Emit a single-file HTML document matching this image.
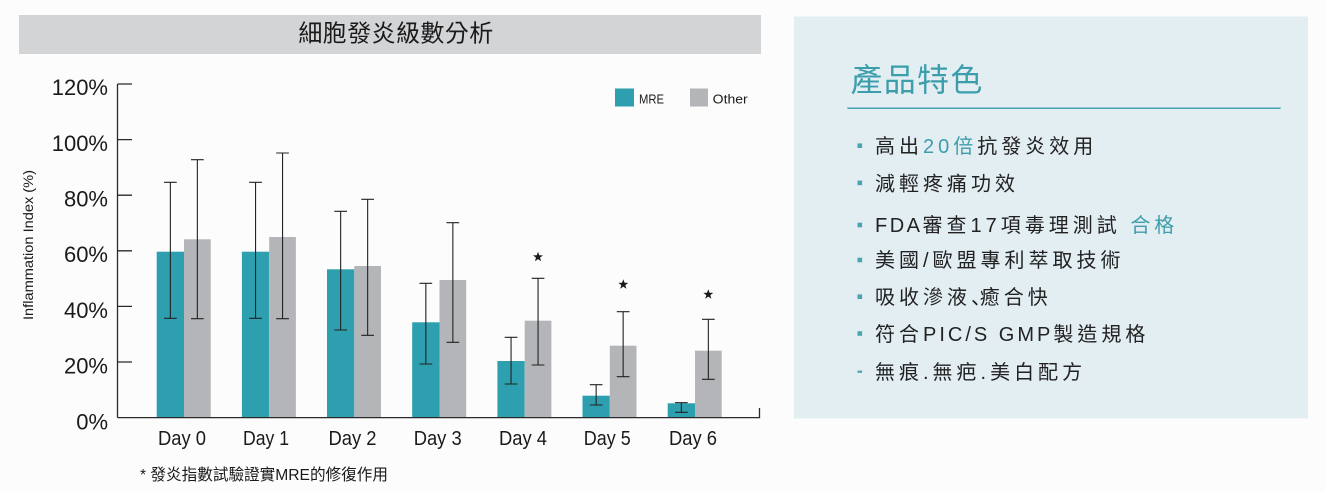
<!DOCTYPE html>
<html>
<head>
<meta charset="utf-8">
<style>
html,body{margin:0;padding:0;background:#fcfcfc;}
body{width:1326px;height:492px;overflow:hidden;}
svg{display:block;}
</style>
</head>
<body>
<svg width="1326" height="492" viewBox="0 0 1326 492" xmlns="http://www.w3.org/2000/svg">
  <rect x="0" y="0" width="1326" height="492" fill="#fcfcfc"/>

  <!-- Title bar -->
  <rect x="19" y="15" width="742" height="39" fill="#d3d4d6"/>
  <text x="396" y="41.6" text-anchor="middle" font-family="'Liberation Sans','Noto Sans CJK TC',sans-serif" font-size="24" letter-spacing="0.4" fill="#1a1a1a">細胞發炎級數分析</text>

  <!-- Axis title -->
  <text transform="translate(33,245) rotate(-90)" text-anchor="middle" font-family="'Liberation Sans',sans-serif" font-size="14" textLength="150" lengthAdjust="spacingAndGlyphs" fill="#1a1a1a">Inflammation Index (%)</text>

  <!-- Y axis labels -->
  <g font-family="'Liberation Sans',sans-serif" font-size="22" fill="#1a1a1a" text-anchor="end">
    <text x="108" y="95">120%</text>
    <text x="108" y="151">100%</text>
    <text x="108" y="206.5">80%</text>
    <text x="108" y="262">60%</text>
    <text x="108" y="318">40%</text>
    <text x="108" y="373.5">20%</text>
    <text x="108" y="429.5">0%</text>
  </g>

  <!-- Bars -->
  <g>
    <!-- MRE -->
    <g fill="#2e9fae">
      <rect x="156.7" y="251.7" width="27.3" height="165.8"/>
      <rect x="241.9" y="251.7" width="27.3" height="165.8"/>
      <rect x="327.0" y="269.3" width="27.3" height="148.2"/>
      <rect x="412.2" y="322.3" width="27.3" height="95.2"/>
      <rect x="497.4" y="361.0" width="27.3" height="56.5"/>
      <rect x="582.5" y="395.7" width="27.3" height="21.8"/>
      <rect x="667.7" y="403.3" width="27.3" height="14.2"/>
    </g>
    <!-- Other -->
    <g fill="#b4b5b9">
      <rect x="184" y="239.3" width="26.7" height="178.2"/>
      <rect x="269.2" y="237" width="26.7" height="180.5"/>
      <rect x="354.3" y="266" width="26.7" height="151.5"/>
      <rect x="439.5" y="280" width="26.7" height="137.5"/>
      <rect x="524.7" y="320.7" width="26.7" height="96.8"/>
      <rect x="609.8" y="345.7" width="26.7" height="71.8"/>
      <rect x="695" y="350.7" width="26.7" height="66.8"/>
    </g>
  </g>

  <!-- Error bars -->
  <g stroke="#222" stroke-width="1.1" fill="none">
    <!-- Day0 -->
    <path d="M170.35 182.3V318.3M164 182.3H176.7M164 318.3H176.7"/>
    <path d="M197.35 159.7V318.7M191 159.7H203.7M191 318.7H203.7"/>
    <!-- Day1 -->
    <path d="M255.55 182.3V318.3M249.2 182.3H261.9M249.2 318.3H261.9"/>
    <path d="M282.55 153V318.7M276.2 153H288.9M276.2 318.7H288.9"/>
    <!-- Day2 -->
    <path d="M340.65 211.3V330M334.3 211.3H347M334.3 330H347"/>
    <path d="M367.65 199.3V335.3M361.3 199.3H374M361.3 335.3H374"/>
    <!-- Day3 -->
    <path d="M425.85 283.3V364M419.5 283.3H432.2M419.5 364H432.2"/>
    <path d="M452.85 222.7V342.3M446.5 222.7H459.2M446.5 342.3H459.2"/>
    <!-- Day4 -->
    <path d="M511.05 337.3V384M504.7 337.3H517.4M504.7 384H517.4"/>
    <path d="M538.05 278.3V365M531.7 278.3H544.4M531.7 365H544.4"/>
    <!-- Day5 -->
    <path d="M596.15 384.7V405M589.8 384.7H602.5M589.8 405H602.5"/>
    <path d="M623.15 311.7V376.7M616.8 311.7H629.5M616.8 376.7H629.5"/>
    <!-- Day6 -->
    <path d="M681.35 402.7V412.3M675 402.7H687.7M675 412.3H687.7"/>
    <path d="M708.35 319.3V379.3M702 319.3H714.7M702 379.3H714.7"/>
  </g>

  <!-- Stars -->
  <g fill="#1a1a1a">
    <polygon transform="translate(538,257)" points="0,-5.2 1.25,-1.7 4.95,-1.6 2,0.65 3.05,4.2 0,2.1 -3.05,4.2 -2,0.65 -4.95,-1.6 -1.25,-1.7"/>
    <polygon transform="translate(623.3,284.5)" points="0,-5.2 1.25,-1.7 4.95,-1.6 2,0.65 3.05,4.2 0,2.1 -3.05,4.2 -2,0.65 -4.95,-1.6 -1.25,-1.7"/>
    <polygon transform="translate(708.3,294.5)" points="0,-5.2 1.25,-1.7 4.95,-1.6 2,0.65 3.05,4.2 0,2.1 -3.05,4.2 -2,0.65 -4.95,-1.6 -1.25,-1.7"/>
  </g>

  <!-- Axes -->
  <g stroke="#2a2a2a" stroke-width="1.3" fill="none">
    <path d="M117.5 84V417.6"/>
    <path d="M117.5 84H132M117.5 139.6H132M117.5 195.2H132M117.5 250.8H132M117.5 306.4H132M117.5 362H132"/>
    <path d="M117.5 417.6H759.5V408"/>
  </g>

  <!-- Legend -->
  <rect x="615" y="88.5" width="19" height="18" fill="#2e9fae"/>
  <text x="639" y="103.3" font-family="'Liberation Sans',sans-serif" font-size="13" textLength="25" lengthAdjust="spacingAndGlyphs" fill="#1a1a1a">MRE</text>
  <rect x="690" y="88.5" width="18" height="18" fill="#b4b5b9"/>
  <text x="712.7" y="103.3" font-family="'Liberation Sans',sans-serif" font-size="13" textLength="35" lengthAdjust="spacingAndGlyphs" fill="#1a1a1a">Other</text>

  <!-- X labels -->
  <g font-family="'Liberation Sans',sans-serif" font-size="20" fill="#1a1a1a" text-anchor="middle" lengthAdjust="spacingAndGlyphs">
    <text x="182" y="445" textLength="48" lengthAdjust="spacingAndGlyphs">Day 0</text>
    <text x="266" y="445" textLength="46" lengthAdjust="spacingAndGlyphs">Day 1</text>
    <text x="352.5" y="445" textLength="48" lengthAdjust="spacingAndGlyphs">Day 2</text>
    <text x="437.7" y="445" textLength="48" lengthAdjust="spacingAndGlyphs">Day 3</text>
    <text x="523" y="445" textLength="48" lengthAdjust="spacingAndGlyphs">Day 4</text>
    <text x="607.3" y="445" textLength="47" lengthAdjust="spacingAndGlyphs">Day 5</text>
    <text x="693" y="445" textLength="48" lengthAdjust="spacingAndGlyphs">Day 6</text>
  </g>

  <!-- Footnote -->
  <text x="140" y="479.8" font-family="'Liberation Sans','Noto Sans CJK TC',sans-serif" font-size="16" textLength="248" lengthAdjust="spacingAndGlyphs" fill="#1a1a1a">* 發炎指數試驗證實MRE的修復作用</text>

  <!-- Right panel -->
  <rect x="794" y="16.5" width="514" height="402" fill="#e3eef3"/>
  <text x="850.5" y="91" font-family="'Liberation Sans','Noto Sans CJK TC',sans-serif" font-size="32" letter-spacing="1.3" fill="#3c9dab">產品特色</text>
  <path d="M847.3 108.3H1280.7" stroke="#4aa3b1" stroke-width="1.5"/>

  <g fill="#4aa3b1">
    <rect x="857.5" y="143.4" width="4.6" height="4.6"/>
    <rect x="857.5" y="180.6" width="4.6" height="4.6"/>
    <rect x="857.5" y="222.7" width="4.6" height="4.6"/>
    <rect x="857.5" y="257.7" width="4.6" height="4.6"/>
    <rect x="857.5" y="294.4" width="4.6" height="4.6"/>
    <rect x="857.5" y="331.2" width="4.6" height="4.6"/>
    <rect x="857.5" y="370.6" width="4.6" height="2.2"/>
  </g>

  <g font-family="'Liberation Sans','Noto Sans CJK TC',sans-serif" font-size="20" letter-spacing="4" fill="#222">
    <text x="875" y="152.9">高出<tspan fill="#3c9dab">20倍</tspan>抗發炎效用</text>
    <text x="875" y="190.3">減輕疼痛功效</text>
    <text x="875" y="232.2"><tspan letter-spacing="2.5">FDA</tspan>審查17項毒理測試 <tspan fill="#3c9dab">合格</tspan></text>
    <text x="875" y="267.2">美國/歐盟專利萃取技術</text>
    <text x="875" y="303.9">吸收滲液<tspan font-family="'Noto Sans CJK JP',sans-serif" letter-spacing="-11.3">、</tspan>癒合快</text>
    <text x="875" y="340.8">符合<tspan letter-spacing="3">PIC/S GMP</tspan>製造規格</text>
    <text x="875" y="378.9">無痕.無疤.美白配方</text>
  </g>
</svg>
</body>
</html>
